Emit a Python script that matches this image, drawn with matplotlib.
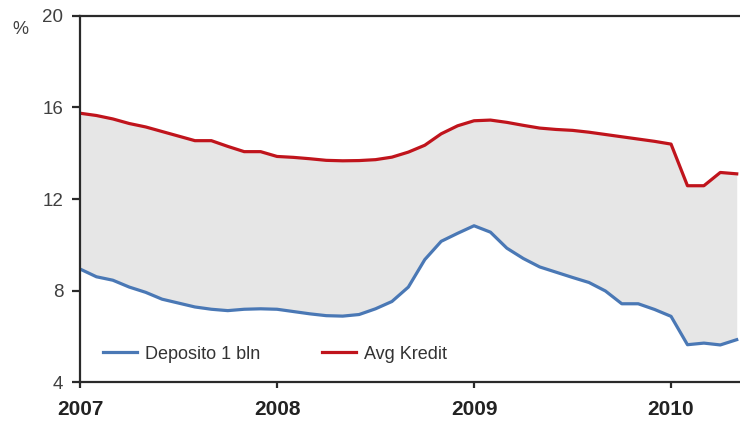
import matplotlib
matplotlib.use("Agg")
import matplotlib.pyplot as plt
import numpy as np

plt.rcParams['font.family'] = ['Liberation Sans', 'DejaVu Sans']

# monthly rates, Jan 2007 .. May 2010
start_year = 2007
kredit = [15.75, 15.65, 15.5, 15.3, 15.15, 14.95, 14.75, 14.55, 14.55, 14.3, 14.07, 14.07,
          13.86, 13.82, 13.76, 13.69, 13.67, 13.68, 13.72, 13.83, 14.05, 14.35, 14.85, 15.2,
          15.42, 15.45, 15.35, 15.22, 15.1, 15.04, 15.0, 14.92, 14.82, 14.72, 14.62, 14.52,
          14.4, 12.58, 12.58, 13.16, 13.1]
deposito = [8.94, 8.6, 8.45, 8.15, 7.92, 7.62, 7.45, 7.28, 7.18, 7.12, 7.18, 7.2,
            7.18, 7.08, 6.98, 6.9, 6.88, 6.95, 7.2, 7.52, 8.15, 9.35, 10.15, 10.5,
            10.83, 10.55, 9.85, 9.4, 9.03, 8.8, 8.57, 8.35, 7.98, 7.42, 7.42, 7.17,
            6.87, 5.63, 5.7, 5.62, 5.85]
year_ticks = [2007, 2008, 2009, 2010]
y_ticks = [4, 8, 12, 16, 20]

t = start_year + np.arange(len(kredit)) / 12.0

blue = '#4a78b5'
red = '#c0141c'
dark = '#2a2a2a'

fig = plt.figure(figsize=(7.4, 4.23), dpi=100)
ax = fig.add_axes([80 / 740, 41 / 423, 660 / 740, 366 / 423])

ax.fill_between(t, deposito, kredit, color='#e6e6e6', lw=0)
ax.plot(t, deposito, color=blue, lw=2.3, label='Deposito 1 bln', solid_joinstyle='round')
ax.plot(t, kredit, color=red, lw=2.3, label='Avg Kredit', solid_joinstyle='round')

ax.set_xlim(2007, 2007 + 40.2 / 12)
ax.set_ylim(4, 20)
ax.set_xticks(year_ticks)
ax.set_xticklabels([str(y) for y in year_ticks], fontsize=15, fontweight='bold', color='#222222',
                   family=['Liberation Sans Narrow', 'Liberation Sans', 'DejaVu Sans'])
ax.set_yticks(y_ticks)
ax.set_yticklabels([str(v) for v in y_ticks], fontsize=13.5, color='#404040')

for side in ['left', 'top', 'bottom']:
    ax.spines[side].set_linewidth(1.6)
    ax.spines[side].set_color(dark)
ax.spines['right'].set_visible(False)

ax.tick_params(axis='y', direction='out', length=5.5, width=1.6, color=dark, pad=6.5)
ax.tick_params(axis='x', direction='out', length=4.5, width=1.6, color=dark, pad=8.5)

fig.text(20 / 740, 1 - 30 / 423, '%', fontsize=13, color='#404040', ha='center', va='center')

ax.legend(loc='center left', bbox_to_anchor=(23 / 660, 28 / 366), ncol=2, frameon=False,
          fontsize=13, handlelength=1.9, handletextpad=0.45, columnspacing=3.4,
          borderpad=0, borderaxespad=0, labelcolor='#333333')

fig.savefig('out.png', dpi=100)
